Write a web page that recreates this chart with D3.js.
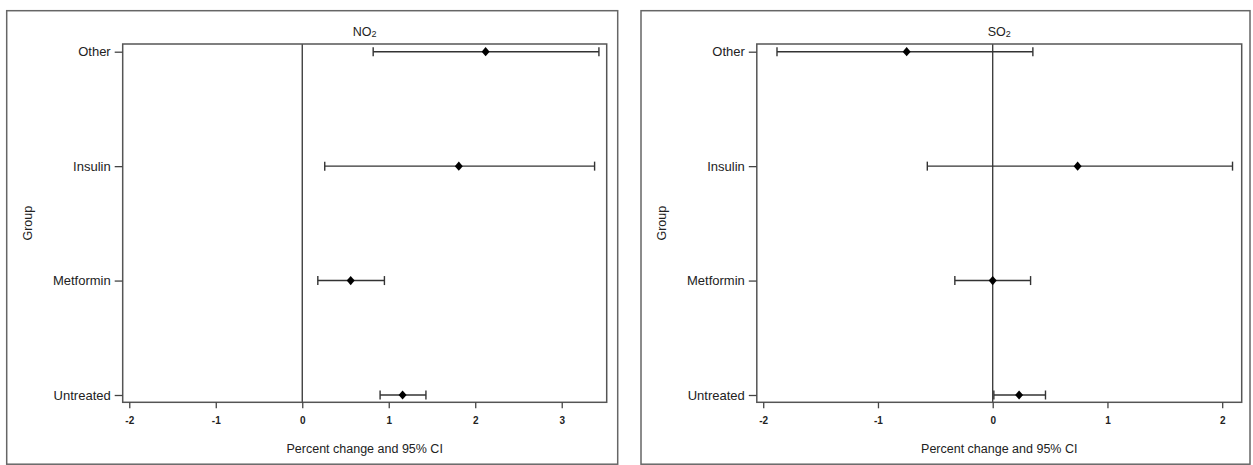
<!DOCTYPE html>
<html>
<head>
<meta charset="utf-8">
<script src="https://cdn.jsdelivr.net/npm/d3@7"></script>
<style>
  html, body { margin: 0; padding: 0; background: #fff; }
  svg { display: block; }
  text { font-family: "Liberation Sans", Arial, sans-serif; fill: #222; }
</style>
</head>
<body>
<svg id="chart" width="1253" height="465"></svg>
<script>
// ---- data ----
const groups = ["Other", "Insulin", "Metformin", "Untreated"];
const no2Est  = [2.12, 1.81, 0.56, 1.16];
const no2Low  = [0.82, 0.26, 0.18, 0.90];
const no2High = [3.43, 3.38, 0.95, 1.43];
const so2Est  = [-0.75, 0.74, 0.00, 0.23];
const so2Low  = [-1.88, -0.57, -0.33, 0.01];
const so2High = [0.35, 2.09, 0.33, 0.46];
const no2Ticks = [-2, -1, 0, 1, 2, 3];
const so2Ticks = [-2, -1, 0, 1, 2];
const xLabel = "Percent change and 95% CI";
const yLabel = "Group";

const svg = d3.select("#chart");

const panels = [
  { title: "NO", sub: "2", est: no2Est, low: no2Low, high: no2High, ticks: no2Ticks,
    domain: [-2.076, 3.52], outer: [6.7, 617.7], frame: [122.7, 606.7], groupX: 28 },
  { title: "SO", sub: "2", est: so2Est, low: so2Low, high: so2High, ticks: so2Ticks,
    domain: [-2.056, 2.17], outer: [641, 1250], frame: [756.8, 1241.7], groupX: 662 }
];

const frameTop = 44, frameBottom = 402.3;
const y = d3.scalePoint().domain(groups).range([51.7, 395]);

panels.forEach(p => {
  const g = svg.append("g");
  // outer box
  g.append("rect")
    .attr("x", p.outer[0]).attr("y", 10.7)
    .attr("width", p.outer[1] - p.outer[0]).attr("height", 453.5)
    .attr("fill", "none").attr("stroke", "#666").attr("stroke-width", 1.5);

  const x = d3.scaleLinear().domain(p.domain).range(p.frame);

  // zero reference line
  g.append("line")
    .attr("x1", x(0)).attr("x2", x(0))
    .attr("y1", frameTop).attr("y2", frameBottom)
    .attr("stroke", "#333").attr("stroke-width", 1.3);

  // frame
  g.append("rect")
    .attr("x", p.frame[0]).attr("y", frameTop)
    .attr("width", p.frame[1] - p.frame[0]).attr("height", frameBottom - frameTop)
    .attr("fill", "none").attr("stroke", "#555").attr("stroke-width", 1.5);

  // x axis
  const xa = g.append("g").attr("transform", `translate(0,${frameBottom})`)
    .call(d3.axisBottom(x).tickValues(p.ticks).tickSize(6).tickPadding(10).tickFormat(d => String(d)));
  xa.select(".domain").remove();
  xa.selectAll(".tick line").attr("stroke", "#444").attr("stroke-width", 1.3);
  xa.selectAll(".tick text").attr("font-size", 10).attr("font-weight", "bold")
    .attr("fill", "#333").style("font-family", "'Liberation Sans', Arial, sans-serif").attr("dy", "0.55em");

  // y axis
  const ya = g.append("g").attr("transform", `translate(${p.frame[0]},0)`)
    .call(d3.axisLeft(y).tickSize(8).tickPadding(4));
  ya.select(".domain").remove();
  ya.selectAll(".tick line").attr("stroke", "#444").attr("stroke-width", 1.3);
  ya.selectAll(".tick text").attr("font-size", 13).attr("fill", "#222")
    .style("font-family", "'Liberation Sans', Arial, sans-serif");

  // title
  const cx = (p.frame[0] + p.frame[1]) / 2;
  const t = g.append("text").attr("x", cx).attr("y", 36).attr("text-anchor", "middle").attr("font-size", 12.5);
  t.append("tspan").text(p.title);
  t.append("tspan").attr("font-size", 9).attr("dy", 0.5).text(p.sub);

  // x label
  g.append("text").attr("x", cx).attr("y", 453).attr("text-anchor", "middle")
    .attr("font-size", 12.5).text(xLabel);

  // y label
  g.append("text")
    .attr("transform", `translate(${p.groupX + 4},${(frameTop + frameBottom) / 2}) rotate(-90)`)
    .attr("text-anchor", "middle").attr("font-size", 12.5).text(yLabel);

  // error bars
  const rows = groups.map((grp, i) => ({ grp, est: p.est[i], low: p.low[i], high: p.high[i] }));
  const bars = g.append("g").selectAll("g").data(rows).join("g");
  bars.append("line")
    .attr("x1", d => x(d.low)).attr("x2", d => x(d.high))
    .attr("y1", d => y(d.grp)).attr("y2", d => y(d.grp))
    .attr("stroke", "#333").attr("stroke-width", 1.4);
  bars.append("line")
    .attr("x1", d => x(d.low)).attr("x2", d => x(d.low))
    .attr("y1", d => y(d.grp) - 4.5).attr("y2", d => y(d.grp) + 4.5)
    .attr("stroke", "#333").attr("stroke-width", 1.4);
  bars.append("line")
    .attr("x1", d => x(d.high)).attr("x2", d => x(d.high))
    .attr("y1", d => y(d.grp) - 4.5).attr("y2", d => y(d.grp) + 4.5)
    .attr("stroke", "#333").attr("stroke-width", 1.4);
  bars.append("path")
    .attr("transform", d => `translate(${x(d.est)},${y(d.grp)})`)
    .attr("d", "M0,-4.6L4,0L0,4.6L-4,0Z")
    .attr("fill", "#000");
});
</script>
</body>
</html>
